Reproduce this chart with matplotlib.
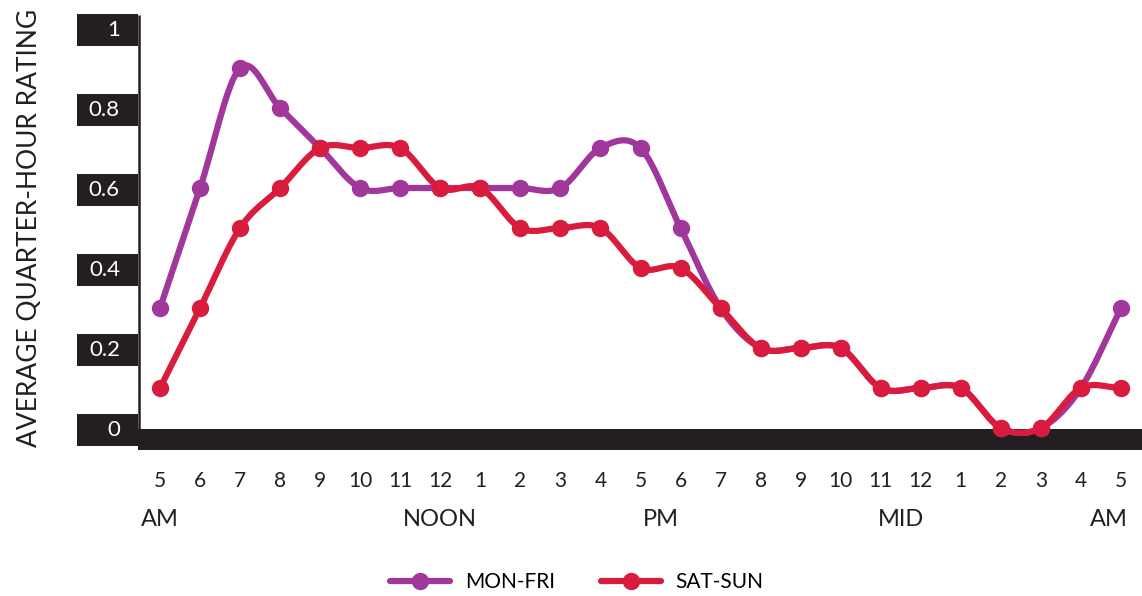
import matplotlib.pyplot as plt
import numpy as np
from matplotlib.patches import Rectangle
from matplotlib.transforms import blended_transform_factory
from matplotlib.lines import Line2D

plt.rcParams['font.family'] = ['Lato', 'DejaVu Sans']
plt.rcParams['font.weight'] = 'normal'

hours = ['5', '6', '7', '8', '9', '10', '11', '12', '1', '2', '3', '4', '5',
         '6', '7', '8', '9', '10', '11', '12', '1', '2', '3', '4', '5']
mon_fri = [0.3, 0.6, 0.9, 0.8, 0.7, 0.6, 0.6, 0.6, 0.6, 0.6, 0.6, 0.7, 0.7,
           0.5, 0.3, 0.2, 0.2, 0.2, 0.1, 0.1, 0.1, 0.0, 0.0, 0.1, 0.3]
sat_sun = [0.1, 0.3, 0.5, 0.6, 0.7, 0.7, 0.7, 0.6, 0.6, 0.5, 0.5, 0.5, 0.4,
           0.4, 0.3, 0.2, 0.2, 0.2, 0.1, 0.1, 0.1, 0.0, 0.0, 0.1, 0.1]
periods = ['AM', 'NOON', 'PM', 'MID', 'AM']
period_pos = [0, 7, 12.5, 18.5, 23.7]
yticks = [0, 0.2, 0.4, 0.6, 0.8, 1]
ytick_labels = ['0', '0.2', '0.4', '0.6', '0.8', '1']

PURPLE = '#a1379a'
RED = '#d91c3d'
DARK = '#231f20'


def smooth(y, n=24):
    # cardinal (Catmull-Rom) spline through the points
    y = np.asarray(y, dtype=float)
    m = np.gradient(y)
    xs, ys = [], []
    for i in range(len(y) - 1):
        t = np.linspace(0, 1, n, endpoint=False)
        h00 = 2 * t**3 - 3 * t**2 + 1
        h10 = t**3 - 2 * t**2 + t
        h01 = -2 * t**3 + 3 * t**2
        h11 = t**3 - t**2
        xs.append(i + t)
        ys.append(h00 * y[i] + h10 * m[i] + h01 * y[i + 1] + h11 * m[i + 1])
    xs.append([len(y) - 1])
    ys.append([y[-1]])
    return np.concatenate(xs), np.concatenate(ys)


fig = plt.figure(figsize=(11.42, 5.96), dpi=100)
ax = fig.add_axes([138 / 1142, 146 / 596, 1004 / 1142, 440 / 596])
ax.set_xlim(-0.55, 24.525)
ax.set_ylim(-0.055, 1.045)
for s in ax.spines.values():
    s.set_visible(False)
ax.set_yticks([])

x = np.arange(len(hours))
for vals, col in [(mon_fri, PURPLE), (sat_sun, RED)]:
    sx, sy = smooth(vals)
    ax.plot(sx, sy, color=col, lw=4.5, solid_capstyle='round', zorder=3)
    ax.plot(x, vals, 'o', color=col, ms=11.5, mec=col, zorder=4)

# axis decorations
ax.axhspan(-0.055, -0.0025, color=DARK, zorder=2, lw=0)
ax.vlines(-0.53, -0.01, 1.0325, color=DARK, lw=1.8, zorder=2)

blend = blended_transform_factory(ax.transAxes, ax.transData)
for v, lab in zip(yticks, ytick_labels):
    ax.add_patch(Rectangle((-0.0608, v - 0.045), 0.0608, 0.08, transform=blend,
                           color=DARK, clip_on=False, lw=0))
    ax.text(-0.018, v - 0.005, lab, transform=blend, ha='right', va='center',
            color='white', fontsize=16)

ax.set_xticks(x, hours)
ax.tick_params(axis='x', length=0, pad=15, labelsize=15, colors=DARK)

blend_x = blended_transform_factory(ax.transData, ax.transAxes)
for p, lab in zip(period_pos, periods):
    ax.text(p, -0.159, lab, transform=blend_x, ha='center', va='center',
            fontsize=17, color=DARK)

fig.text(30 / 1142, 1 - 228 / 596, 'AVERAGE QUARTER-HOUR RATING', rotation=90,
         ha='center', va='center', fontsize=19, color=DARK)

handles = [Line2D([], [], color=PURPLE, lw=4.5, marker='o', ms=11.5, solid_capstyle='round'),
           Line2D([], [], color=RED, lw=4.5, marker='o', ms=11.5, solid_capstyle='round')]
fig.legend(handles, ['MON-FRI', 'SAT-SUN'], loc='center', ncol=2,
           bbox_to_anchor=(0.505, 14 / 596), frameon=False, fontsize=15,
           handlelength=2.9, columnspacing=2.2, handletextpad=0.7)

fig.savefig('out.png', dpi=100)
